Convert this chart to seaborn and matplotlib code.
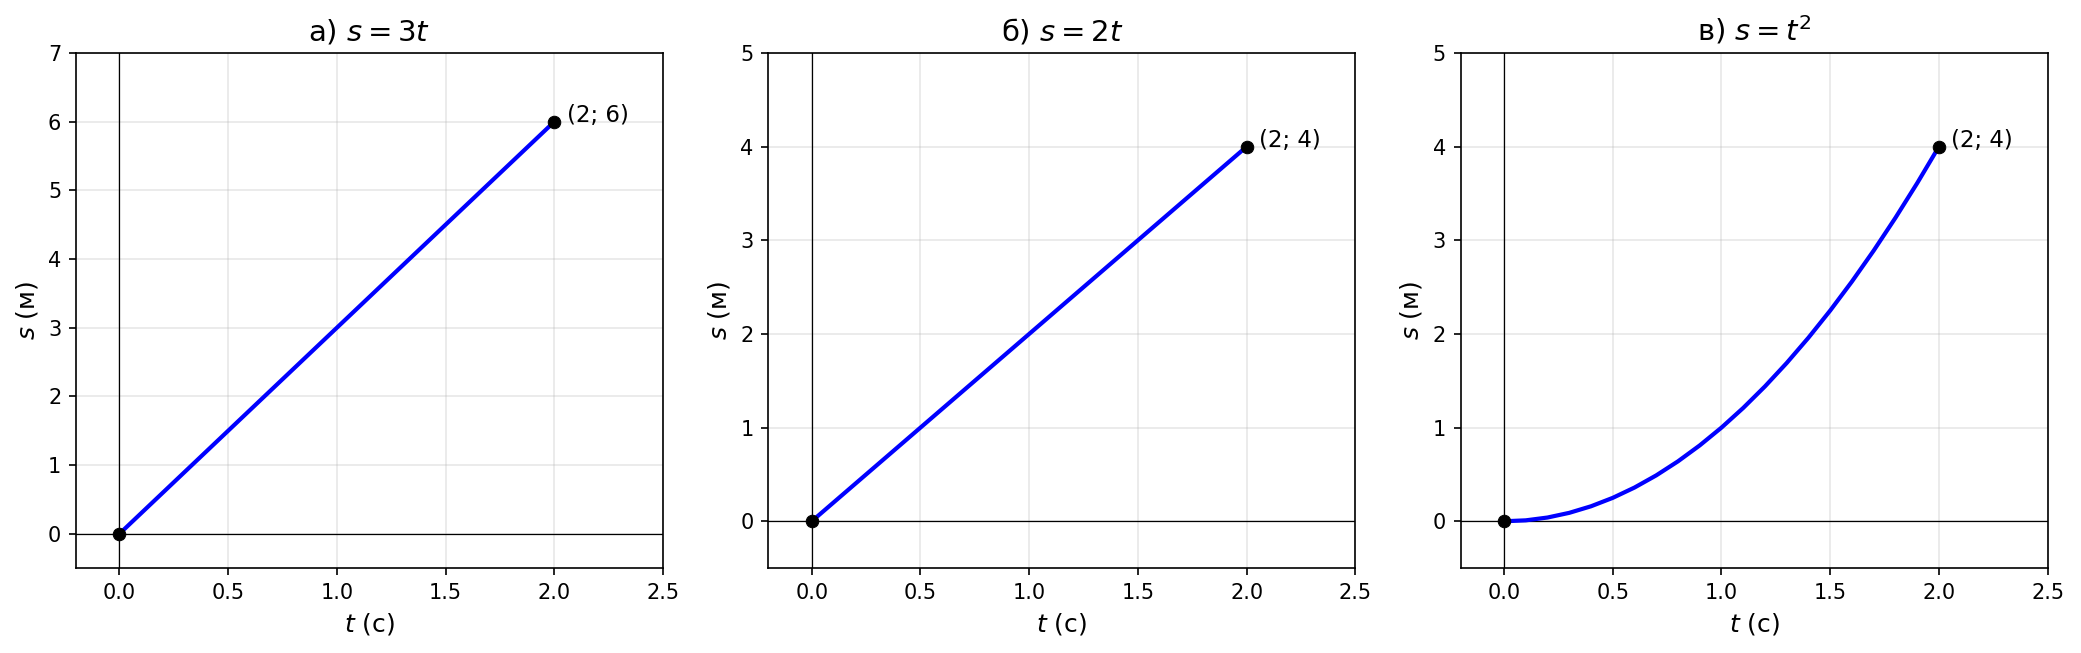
import matplotlib
matplotlib.use('Agg')
import matplotlib.pyplot as plt
import pandas as pd
import seaborn as sns

# Data
t_lin = [0.0, 2.0]
s_a = [0.0, 6.0]
s_b = [0.0, 4.0]
t_quad = [0.0, 0.1, 0.2, 0.3, 0.4, 0.5, 0.6, 0.7, 0.8, 0.9, 1.0,
          1.1, 1.2, 1.3, 1.4, 1.5, 1.6, 1.7, 1.8, 1.9, 2.0]
s_c = [0.0, 0.01, 0.04, 0.09, 0.16, 0.25, 0.36, 0.49, 0.64, 0.81, 1.0,
       1.21, 1.44, 1.69, 1.96, 2.25, 2.56, 2.89, 3.24, 3.61, 4.0]

titles = ['а) $s = 3t$', 'б) $s = 2t$', 'в) $s = t^2$']
point_labels = ['(2; 6)', '(2; 4)', '(2; 4)']
end_points = [(2, 6), (2, 4), (2, 4)]
y_tops = [7, 5, 5]

plt.rcParams['font.family'] = ['DejaVu Sans']

fig, axes = plt.subplots(1, 3, figsize=(2081 / 150, 653 / 150), dpi=150)
fig.subplots_adjust(left=0.0365, right=0.984, top=0.919, bottom=0.130, wspace=0.179)

curves = [(t_lin, s_a), (t_lin, s_b), (t_quad, s_c)]

for i, ax in enumerate(axes):
    t, s = curves[i]
    df = pd.DataFrame({'t': t, 's': s})
    ax.axhline(0, color='black', lw=0.6, zorder=1)
    ax.axvline(0, color='black', lw=0.6, zorder=1)
    sns.lineplot(data=df, x='t', y='s', ax=ax, color='blue', lw=2, zorder=3)
    pts = pd.DataFrame({'t': [0, end_points[i][0]], 's': [0, end_points[i][1]]})
    sns.scatterplot(data=pts, x='t', y='s', ax=ax, color='black', s=36,
                    edgecolor='black', zorder=5)
    # point label, a little right of and above the end point
    ax.annotate(point_labels[i], xy=end_points[i], xytext=(6, 3),
                textcoords='offset points', fontsize=11, va='center')
    ax.set_xlim(-0.2, 2.5)
    ax.set_ylim(-0.5, y_tops[i])
    ax.set_title(titles[i], fontsize=14)
    ax.set_xlabel('$t$ (с)', fontsize=12)
    ax.set_ylabel('$s$ (м)', fontsize=12)
    ax.tick_params(labelsize=10)
    ax.grid(True, alpha=0.3)
    ax.set_axisbelow(True)

fig.savefig('out.png', dpi=150)
